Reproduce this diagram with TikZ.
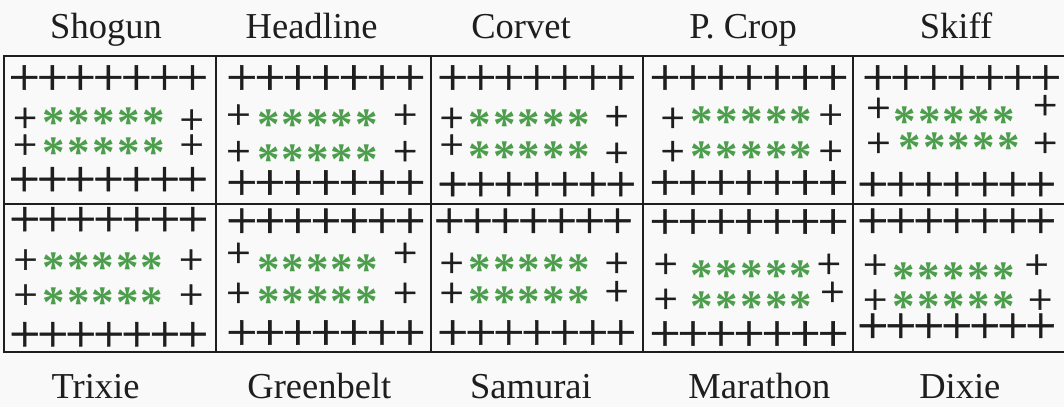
\documentclass[tikz,border=0pt]{standalone}
\usepackage{fontspec}
\setmainfont{Liberation Serif}
\newfontfamily\plusfont{Liberation Serif}[FakeBold=1.0]
\usepackage{graphicx}
\definecolor{astgreen}{RGB}{76,158,76}
\definecolor{ink}{RGB}{30,30,30}
\definecolor{paper}{RGB}{249,249,249}
\tikzset{
  bigplus/.style={inner sep=0pt, text=ink, font=\plusfont\fontsize{52}{52}\selectfont},
  smallplus/.style={inner sep=0pt, text=ink, font=\plusfont\fontsize{43}{43}\selectfont},
  ast/.style={inner sep=0pt, anchor=base, yshift=-21.2pt, text=astgreen, font=\bfseries\fontsize{45}{45}\selectfont},
  lbl/.style={anchor=base, inner sep=0pt, text=ink, font=\fontsize{36.5}{36.5}\selectfont},
  gridline/.style={draw=ink, line width=1.8pt},
}
\newcommand\pk{\kern-2.9pt}
% id, x first, x last, y  (seven touching plus signs, one text)
\newcommand\plusrow[4]{%
  \node[bigplus] (#1) at ({(#2+#3)/2},#4) {\scalebox{1.06}[1]{+\pk+\pk+\pk+\pk+\pk+\pk+}};}
% id, x left plus, y left plus, x first ast, x last ast, y ast, x right plus, y right plus
\newcommand\midrow[8]{%
  \node[smallplus] (#1-l) at (#2,#3) {+};
  \foreach \k in {1,...,5}{\node[ast] (#1-a\k) at ({#4+(\k-1)*(#5-#4)/4},#6) {*};}
  \node[smallplus] (#1-r) at (#7,#8) {+};}
\begin{document}
\begin{tikzpicture}[x=1pt,y=-1pt]
\useasboundingbox (0,0) rectangle (1064,407);
\fill[paper] (0,0) rectangle (1064,407);
\clip (0,0) rectangle (1064,407);
% grid
\coordinate (g-tl) at (4,56);
\coordinate (g-bl) at (4,352);
\coordinate (g-tr) at (1070,56);
\coordinate (g-br) at (1070,352);
\coordinate (g-ml) at (4,204);
\coordinate (g-mr) at (1070,204);
\draw[gridline] (g-tr) -- (g-tl) -- (g-bl) -- (g-br);
\draw[gridline] (g-ml) -- (g-mr);
\foreach \x [count=\i] in {216,431,643,853}{
  \coordinate (v\i-t) at (\x,56);
  \coordinate (v\i-b) at (\x,352);
  \draw[gridline] (v\i-t) -- (v\i-b);
}
% labels
\node[lbl] (l-shogun) at (106,38.5) {Shogun};
\node[lbl] (l-headline) at (311.6,38.5) {Headline};
\node[lbl] (l-corvet) at (521,38.5) {Corvet};
\node[lbl] (l-pcrop) at (743,38.5) {P. Crop};
\node[lbl] (l-skiff) at (956,38.5) {Skiff};
\node[lbl] (l-trixie) at (95.6,398) {Trixie};
\node[lbl] (l-greenbelt) at (319.4,398) {Greenbelt};
\node[lbl] (l-samurai) at (531,398) {Samurai};
\node[lbl] (l-marathon) at (759.4,398) {Marathon};
\node[lbl] (l-dixie) at (959.8,398) {Dixie};
% Shogun
\plusrow{shA}{25}{191.7}{80}
\midrow{shB}{25}{120}{53.3}{153.3}{116.7}{191.7}{121.7}
\midrow{shC}{25}{146.7}{53.3}{153.3}{146.7}{191.7}{146.7}
\plusrow{shD}{25}{191.7}{181.7}
% Headline
\plusrow{hdA}{241.7}{410}{80}
\midrow{hdB}{238.3}{116.7}{268.3}{366.7}{118}{405}{116.7}
\midrow{hdC}{238.3}{153.3}{268.3}{366.7}{153.3}{405}{153.3}
\plusrow{hdD}{241.7}{410}{185}
% Corvet
\plusrow{cvA}{453.3}{620}{80}
\midrow{cvB}{451.7}{120}{480}{578.3}{118.3}{616.7}{118.3}
\midrow{cvC}{451.7}{146.7}{480}{578.3}{150}{616.7}{155}
\plusrow{cvD}{453.3}{620}{186.7}
% P. Crop
\plusrow{pcA}{665.7}{832.3}{80}
\midrow{pcB}{672.7}{120}{702.2}{801}{115.5}{830.5}{116.7}
\midrow{pcC}{672.7}{153.3}{702.2}{801}{150}{830.5}{153}
\plusrow{pcD}{665.7}{832.3}{185}
% Skiff
\plusrow{skA}{878.3}{1045}{80}
\midrow{skB}{878.3}{110}{905}{1003.3}{115}{1045}{107.3}
\midrow{skC}{878.3}{145}{910}{1008.3}{141.7}{1045}{145}
\plusrow{skD}{873.3}{1040}{186.7}
% Trixie
\plusrow{txA}{25.5}{192}{221.7}
\midrow{txB}{25.5}{261.7}{54}{152}{261.7}{191}{261.7}
\midrow{txC}{25.5}{296.7}{54}{152}{296.7}{191}{296.7}
\plusrow{txD}{25.5}{192}{336.7}
% Greenbelt
\plusrow{gbA}{241.7}{410}{223.3}
\midrow{gbB}{238.3}{255}{268.3}{366.7}{263.3}{405}{255}
\midrow{gbC}{238.3}{295}{268.3}{366.7}{295}{405}{295}
\plusrow{gbD}{241.7}{410}{335}
% Samurai
\plusrow{smA}{450}{616.7}{223.3}
\midrow{smB}{451.7}{265}{480}{578.3}{263.3}{616.7}{265}
\midrow{smC}{451.7}{295}{480}{578.3}{295}{616.7}{293.3}
\plusrow{smD}{453.3}{620}{335}
% Marathon
\plusrow{mtA}{665.7}{832.3}{224}
\midrow{mtB}{665.7}{266}{702.2}{801}{269}{828.8}{266}
\midrow{mtC}{665.7}{301}{702.2}{801}{300}{832.3}{294}
\plusrow{mtD}{665.7}{832.3}{336}
% Dixie
\plusrow{dxA}{873.3}{1040}{223.3}
\midrow{dxB}{875}{266.7}{903.3}{1003.3}{271.7}{1036.7}{266.7}
\midrow{dxC}{875}{301.7}{903.3}{1003.3}{300}{1040}{301.7}
\plusrow{dxD}{873.3}{1040}{328.3}
\end{tikzpicture}
\end{document}
